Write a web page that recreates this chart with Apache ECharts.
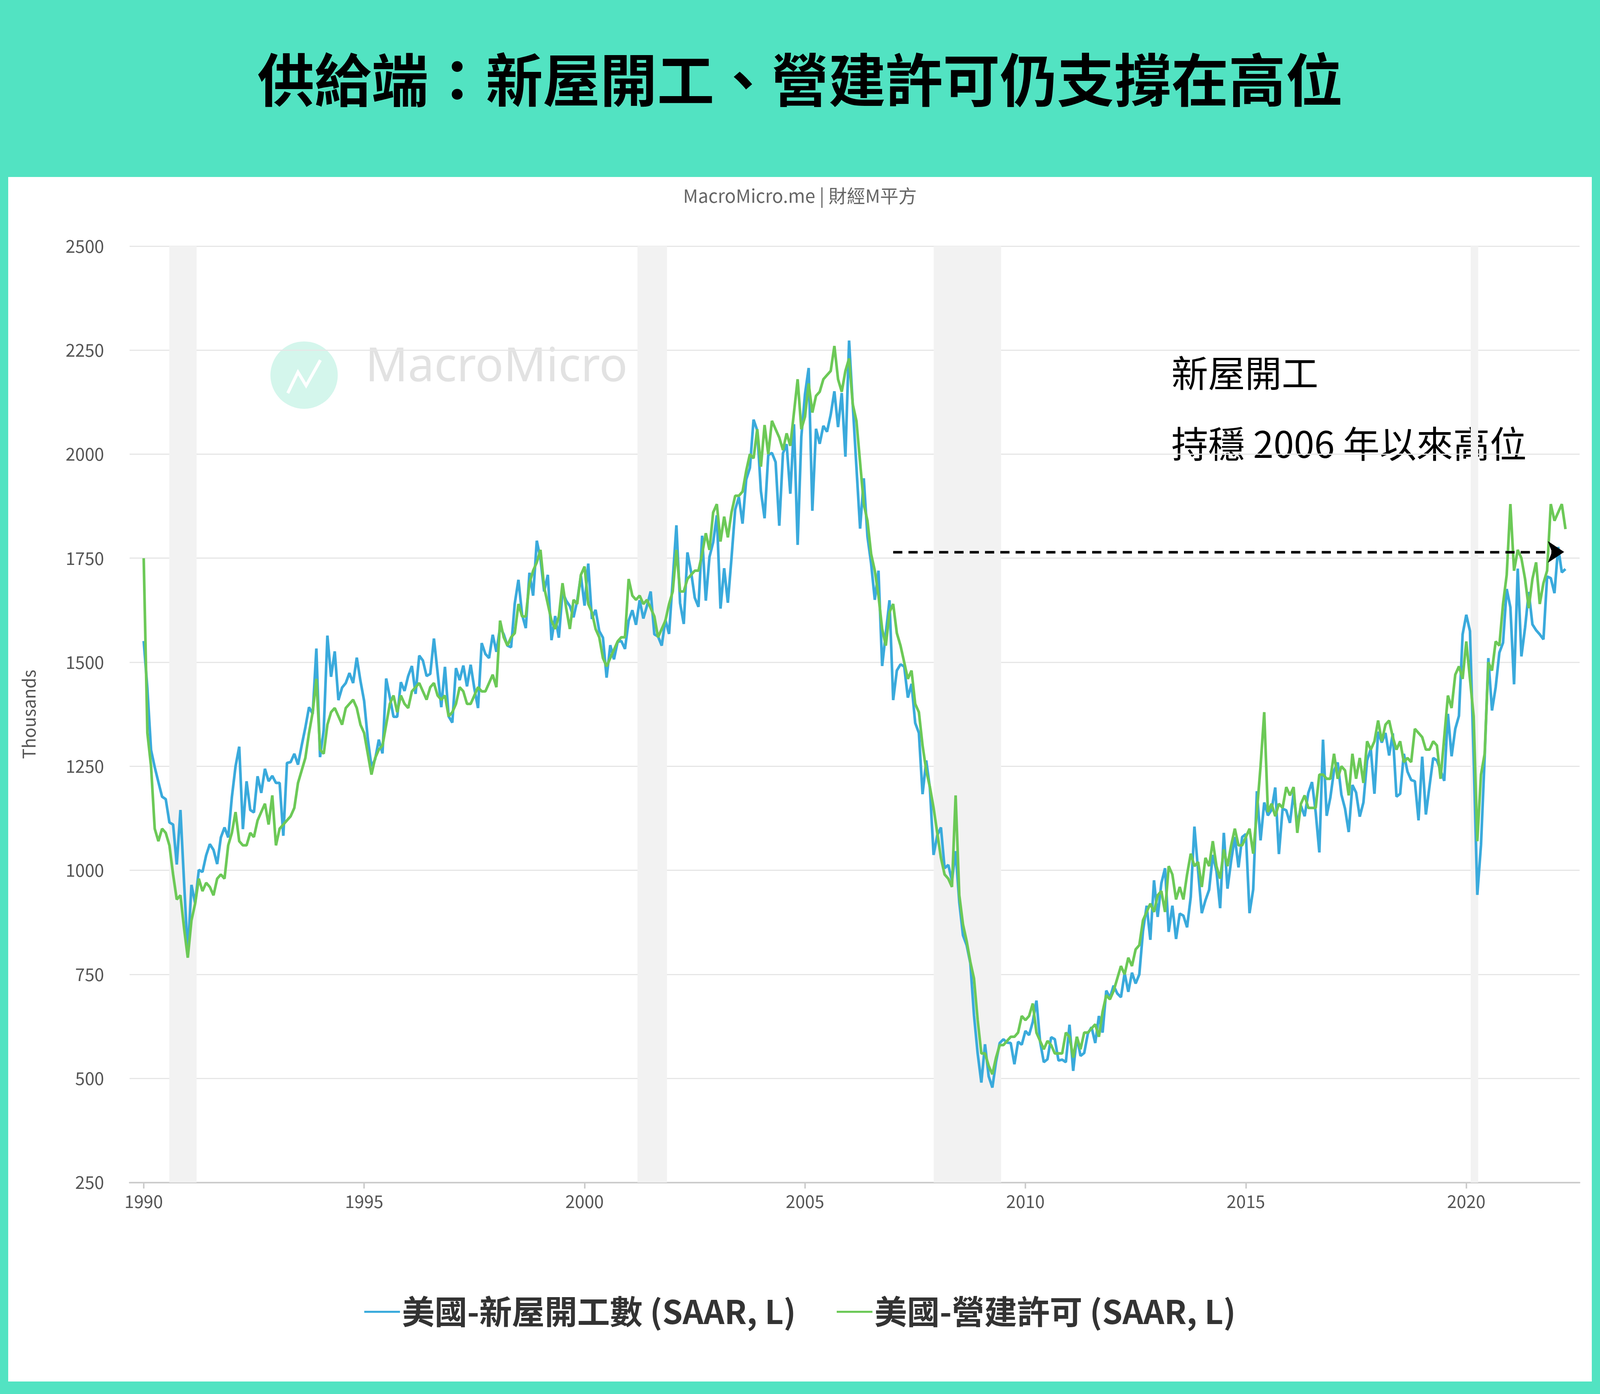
<!DOCTYPE html>
<html>
<head>
<meta charset="utf-8">
<script src="https://cdn.jsdelivr.net/npm/echarts@6/dist/echarts.min.js"></script>
<style>
html, body { margin: 0; padding: 0; background: #52e3c2; width: 100%; height: 100%; overflow: hidden; }
#panel { position: absolute; left: 0.51%; top: 12.7%; width: 98.98%; height: 86.4%; background: #fff; }
#chart { position: absolute; left: 0; top: 0; width: 100vw; height: 100vh; }
</style>
</head>
<body>
<div id="panel"></div>
<div id="chart"></div>
<script>
var sx = window.innerWidth / 1568;
var sy = window.innerHeight / 929;
var s = Math.min(sx, sy);
var startYear = 1990;

// US housing starts, thousands SAAR, monthly from Jan 1990
var starts = [
	1551,1437,1289,1248,1212,1177,1171,1115,1110,1014,1145,969,
	798,965,921,1001,996,1036,1063,1049,1015,1079,1103,1079,
	1176,1250,1297,1099,1214,1145,1139,1226,1186,1244,1214,1227,
	1210,1210,1083,1258,1260,1280,1254,1300,1343,1392,1376,1533,
	1272,1337,1564,1465,1526,1409,1439,1450,1474,1450,1511,1455,
	1407,1316,1249,1267,1314,1281,1461,1416,1369,1369,1452,1431,
	1467,1491,1424,1516,1504,1467,1472,1557,1475,1392,1489,1370,
	1355,1486,1457,1492,1442,1494,1437,1390,1546,1520,1510,1566,
	1525,1584,1567,1540,1536,1641,1698,1614,1582,1715,1660,1792,
	1748,1670,1710,1553,1611,1559,1669,1648,1635,1608,1648,1708,
	1636,1737,1604,1626,1575,1559,1463,1541,1507,1549,1551,1532,
	1600,1625,1590,1649,1605,1636,1670,1567,1562,1540,1602,1568,
	1698,1829,1642,1592,1764,1717,1655,1633,1804,1648,1753,1788,
	1853,1629,1726,1643,1751,1867,1897,1833,1939,1967,2083,2057,
	1911,1846,1998,2003,1981,1828,2002,2024,1905,2072,1782,2042,
	2144,2207,1864,2061,2025,2068,2054,2095,2151,2065,2147,1994,
	2273,2119,1969,1821,1942,1802,1737,1650,1720,1491,1570,1649,
	1409,1480,1495,1490,1415,1448,1354,1330,1183,1264,1197,1037,
	1084,1103,1005,1013,975,1046,923,844,820,777,652,560,
	490,582,505,478,540,585,594,586,585,534,588,581,
	614,604,636,687,588,539,546,599,594,543,545,539,
	629,518,600,554,561,608,623,585,650,610,711,694,
	723,704,695,753,708,754,728,750,854,915,833,976,
	888,969,1005,852,915,835,896,891,863,936,1105,999,
	897,928,953,1037,998,909,1090,956,1023,1080,1007,1080,
	1087,897,954,1190,1072,1163,1132,1145,1199,1039,1148,1144,
	1114,1186,1109,1155,1130,1186,1212,1140,1043,1314,1131,1175,
	1240,1259,1182,1148,1092,1205,1187,1129,1163,1264,1292,1184,
	1333,1307,1330,1276,1329,1177,1184,1280,1237,1217,1214,1120,
	1273,1134,1203,1270,1264,1240,1215,1376,1274,1340,1371,1567,
	1614,1575,1273,941,1061,1272,1510,1384,1440,1523,1547,1676,
	1632,1447,1725,1514,1583,1669,1591,1577,1567,1555,1706,1702,
	1666,1777,1716,1724
];

// US building permits, thousands SAAR, monthly from Jan 1990
var permits = [
	1750,1330,1250,1100,1070,1100,1090,1060,990,930,940,860,
	790,880,920,980,950,970,960,940,980,990,980,1060,
	1090,1140,1070,1060,1060,1090,1080,1120,1140,1160,1110,1180,
	1060,1100,1110,1120,1130,1150,1210,1240,1270,1330,1380,1460,
	1290,1280,1350,1380,1390,1370,1350,1390,1400,1410,1390,1350,
	1330,1280,1230,1270,1290,1300,1350,1400,1420,1380,1420,1400,
	1390,1430,1440,1450,1430,1410,1440,1450,1420,1410,1420,1370,
	1380,1400,1440,1430,1400,1400,1420,1440,1430,1430,1450,1470,
	1440,1600,1560,1540,1560,1570,1640,1610,1610,1690,1720,1740,
	1770,1680,1640,1600,1580,1610,1690,1630,1580,1650,1640,1710,
	1730,1640,1620,1580,1560,1510,1490,1510,1530,1550,1560,1560,
	1700,1660,1650,1660,1640,1650,1630,1610,1560,1580,1600,1640,
	1670,1770,1670,1670,1700,1710,1720,1720,1760,1810,1770,1860,
	1880,1790,1850,1800,1860,1900,1900,1910,1960,2000,1990,2060,
	1970,2070,2000,2080,2060,2040,2010,2050,2020,2100,2180,2060,
	2090,2170,2100,2140,2150,2180,2190,2200,2260,2180,2150,2200,
	2230,2120,2080,1980,1880,1840,1760,1720,1660,1580,1540,1620,
	1640,1570,1540,1500,1460,1480,1400,1380,1300,1240,1200,1150,
	1090,1030,990,980,960,1180,940,870,830,780,740,640,
	560,560,530,510,550,580,580,590,600,600,610,650,
	640,650,680,610,590,570,590,580,560,560,560,610,
	600,550,600,570,610,610,620,630,600,660,700,690,
	710,740,770,750,790,770,810,820,880,900,920,900,
	940,950,900,1010,990,930,960,930,990,1040,1010,1020,
	960,1030,1010,1070,1010,980,1050,1010,1060,1100,1060,1060,
	1080,1100,1040,1140,1250,1380,1140,1160,1130,1160,1150,1200,
	1180,1200,1090,1160,1180,1150,1150,1150,1230,1230,1220,1220,
	1280,1220,1250,1240,1180,1280,1220,1270,1210,1310,1290,1310,
	1360,1310,1350,1360,1320,1290,1310,1260,1270,1260,1340,1330,
	1320,1290,1290,1310,1300,1220,1320,1420,1390,1470,1490,1460,
	1550,1460,1370,1070,1230,1280,1500,1480,1550,1540,1640,1710,
	1880,1720,1770,1750,1700,1630,1700,1740,1640,1690,1720,1880,
	1840,1860,1880,1820
];

var yearTicks = [1990, 1995, 2000, 2005, 2010, 2015, 2020];
var recessions = [[1990.58, 1991.2], [2001.2, 2001.87], [2007.92, 2009.45], [2020.1, 2020.27]];
var arrowLevel = 1765;

function toPairs(values) {
	return values.map(function (v, i) { return [startYear + i / 12, v]; });
}

var chart = echarts.init(document.getElementById('chart'));
chart.setOption({
	animation: false,
	textStyle: { fontFamily: 'Noto Sans CJK TC, Noto Sans, sans-serif' },
	title: [{
		text: '供給端：新屋開工、營建許可仍支撐在高位',
		left: 'center', top: 60 * sy - 40 * s,
		textStyle: { fontSize: 56 * s, fontWeight: 'bold', color: '#000', fontFamily: 'Noto Sans CJK TC' }
	}, {
		text: 'MacroMicro.me | 財經M平方',
		left: 'center', top: 132 * sy - 13 * s,
		textStyle: { fontSize: 18 * s, fontWeight: 'normal', color: '#666' }
	}],
	graphic: [
		{ type: 'circle', shape: { cx: 298 * sx, cy: 250 * sy, r: 33 * s }, style: { fill: '#d4f6ec' }, z: -1 },
		{ type: 'polyline', shape: { points: [[282 * sx, 262 * sy], [292 * sx, 248 * sy], [300 * sx, 257 * sy], [314 * sx, 240 * sy]] },
			style: { stroke: '#fff', lineWidth: 3 * s, fill: null }, z: -1 },
		{ type: 'text', left: 358 * sx, top: 252 * sy - 33 * s, z: -1,
			style: { text: 'MacroMicro', fontSize: 46 * s, fill: '#e2e2e2', fontFamily: 'Noto Sans' } },
		{ type: 'text', left: 1148 * sx, top: 243 * sy - 26 * s,
			style: { text: '新屋開工\n持穩 2006 年以來高位', fontSize: 36 * s, lineHeight: 47 * sy, fill: '#000', fontFamily: 'Noto Sans CJK TC' } }
	],
	legend: {
		top: 877 * sy - 22 * s, left: 'center',
		itemWidth: 35 * s, itemHeight: 12 * s, itemGap: 40 * s,
		icon: 'path://M0,5 L35,5 L35,7 L0,7 Z',
		textStyle: { fontSize: 32 * s, fontWeight: 'bold', color: '#333' },
		data: ['美國-新屋開工數 (SAAR, L)', '美國-營建許可 (SAAR, L)']
	},
	grid: { left: 127 * sx, right: 20 * sx, top: 164 * sy, bottom: 141 * sy },
	xAxis: {
		type: 'value', min: 1989.68, max: 2022.57,
		splitLine: { show: false },
		axisLine: { lineStyle: { color: '#ccc', width: 1.5 * s } },
		axisTick: { customValues: yearTicks, length: 6 * s, lineStyle: { color: '#ccc', width: 1.5 * s } },
		axisLabel: { customValues: yearTicks, fontSize: 17 * s, color: '#555', margin: 10 * s,
			formatter: function (v) { return String(Math.round(v)); } }
	},
	yAxis: {
		type: 'value', min: 250, max: 2500, interval: 250,
		name: 'Thousands', nameLocation: 'middle', nameGap: 90 * sx,
		nameTextStyle: { fontSize: 17 * s, color: '#555' },
		splitLine: { lineStyle: { color: '#e6e6e6', width: 1.2 * s } },
		axisLine: { show: false }, axisTick: { show: false },
		axisLabel: { fontSize: 17 * s, color: '#555', margin: 25 * sx,
			formatter: function (v) { return String(v); } }
	},
	series: [{
		name: '美國-新屋開工數 (SAAR, L)', type: 'line', data: toPairs(starts),
		showSymbol: false, color: '#3aaadc', lineStyle: { width: 2.6 * s },
		markArea: {
			silent: true, itemStyle: { color: '#f2f2f2' },
			data: recessions.map(function (r) { return [{ xAxis: r[0] }, { xAxis: r[1] }]; })
		}
	}, {
		name: '美國-營建許可 (SAAR, L)', type: 'line', data: toPairs(permits),
		showSymbol: false, color: '#6cc957', lineStyle: { width: 2.6 * s },
		markLine: {
			silent: true, symbol: ['none', 'arrow'], symbolSize: 16 * s,
			label: { show: false },
			lineStyle: { color: '#000', type: [9 * s, 6 * s], width: 2.5 * s },
			data: [[{ coord: [2007.0, arrowLevel] }, { coord: [2022.22, arrowLevel] }]]
		}
	}]
});
</script>
</body>
</html>
